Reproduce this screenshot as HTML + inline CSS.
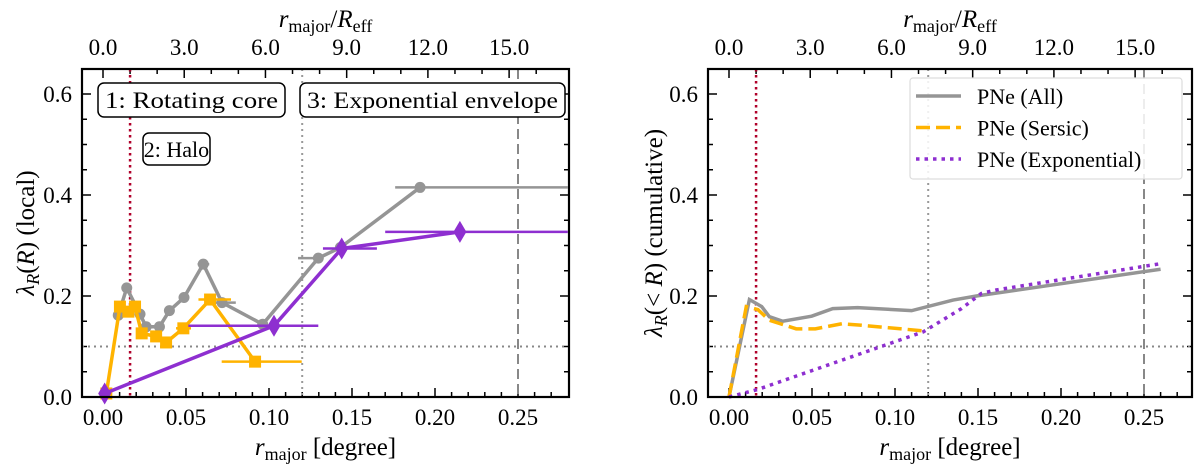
<!DOCTYPE html>
<html><head><meta charset="utf-8"><style>
body{margin:0;background:#fff}
svg{display:block;font-family:"Liberation Serif","DejaVu Serif",serif}
</style></head><body>
<svg id="fig" width="1200" height="472" viewBox="0 0 1200 472" xmlns="http://www.w3.org/2000/svg"></svg>
<script>
// ---- data ----
const grayX=[0.0092,0.0143,0.0223,0.026,0.034,0.040,0.0488,0.0604,0.0717,0.0962,0.1297,0.143,0.191];
const grayY=[0.162,0.216,0.164,0.139,0.139,0.171,0.197,0.263,0.187,0.144,0.275,0.296,0.415];
const grayXlo=[0.0092,0.0143,0.0223,0.026,0.034,0.040,0.0488,0.057,0.066,0.0962,0.1175,0.143,0.176];
const grayXhi=[0.0092,0.0143,0.0223,0.026,0.034,0.040,0.0488,0.064,0.080,0.0962,0.1325,0.143,0.280];
const orX=[0.002,0.0102,0.0153,0.0193,0.0233,0.032,0.038,0.0484,0.0645,0.0916];
const orY=[0.007,0.179,0.169,0.179,0.126,0.120,0.108,0.136,0.193,0.070];
const orXlo=[0.002,0.0102,0.0153,0.0193,0.0233,0.032,0.038,0.044,0.0575,0.0715];
const orXhi=[0.002,0.0102,0.0153,0.0193,0.0233,0.032,0.038,0.053,0.0771,0.1197];
const puX=[0.001,0.103,0.1438,0.215];
const puY=[0.007,0.141,0.294,0.327];
const puXlo=[0.001,0.0514,0.1325,0.170];
const puXhi=[0.001,0.1297,0.165,0.280];
const cumAllX=[0,0.0123,0.0197,0.0243,0.0324,0.0498,0.0625,0.0775,0.11,0.135,0.149,0.26];
const cumAllY=[0,0.193,0.179,0.159,0.15,0.16,0.175,0.177,0.171,0.192,0.2,0.253];
const cumSerX=[0,0.0104,0.0174,0.0243,0.0405,0.052,0.068,0.08,0.117];
const cumSerY=[0,0.179,0.173,0.152,0.135,0.135,0.145,0.142,0.131];
const cumExpX=[0,0.0174,0.117,0.14,0.152,0.161,0.26];
const cumExpY=[0,0.015,0.129,0.175,0.205,0.212,0.264];
const xTicks=["0.00","0.05","0.10","0.15","0.20","0.25"];
const yTicks=["0.0","0.2","0.4","0.6"];
const topTicks=["0.0","3.0","6.0","9.0","12.0","15.0"];
const Reff=0.01631;

const NS="http://www.w3.org/2000/svg";
const svg=document.getElementById('fig');
function el(tag,attrs,parent,text){const e=document.createElementNS(NS,tag);for(const k in attrs)e.setAttribute(k,attrs[k]);if(text!==undefined)e.textContent=text;(parent||svg).appendChild(e);return e;}

function panel(L,R,name){
  const T=69,B=397;
  const x0=L+21, k=1660;
  const sx=v=>x0+v*k, sy=v=>B-v*505;
  const g=el('g',{});  
  return {L,R,T,B,sx,sy,g};
}
function axes(p){
  const {L,R,T,B,sx,sy,g}=p;
  const tk=el('g',{stroke:'#000','stroke-width':1.5},g);
  
  for(let i=0;i<=27;i++){const v=i*0.01,x=sx(v);if(x>R)break;const len=i%5==0?9:5;
    el('line',{x1:x,x2:x,y1:B,y2:B-len},tk);}
  for(let i=0;i<=16;i++){const x=sx(i*Reff);if(x>R)break;const len=i%3==0?9:5;
    el('line',{x1:x,x2:x,y1:T,y2:T+len},tk);}
  for(let i=0;i<=13;i++){const y=sy(i*0.05);if(y<T)break;const len=i%4==0?9:5;
    el('line',{x1:L,x2:L+len,y1:y,y2:y},tk);el('line',{x1:R,x2:R-len,y1:y,y2:y},tk);}
  xTicks.forEach((t,i)=>{const e=el('text',{x:sx(i*0.05),y:B+28,'font-size':23,'text-anchor':'middle'},g,t);});
  yTicks.forEach((t,i)=>{const e=el('text',{x:L-10,y:sy(i*0.2)+8,'font-size':23,'text-anchor':'end'},g,t);});
  topTicks.forEach((t,i)=>{const e=el('text',{x:sx(i*3*Reff),y:T-14,'font-size':23,'text-anchor':'middle'},g,t);});
  const xt=el('text',{x:(L+R)/2,y:B+58,'font-size':25,'text-anchor':'middle'},g);
  
  el('tspan',{'font-style':'italic'},xt,'r');el('tspan',{'font-size':18,dy:5},xt,'major');el('tspan',{dy:-5},xt,' [degree]');
  const tt=el('text',{x:(L+R)/2,y:27,'font-size':25,'text-anchor':'middle'},g);
  
  el('tspan',{'font-style':'italic'},tt,'r');el('tspan',{'font-size':18,dy:5},tt,'major');el('tspan',{dy:-5},tt,'/');el('tspan',{'font-style':'italic'},tt,'R');el('tspan',{'font-size':18,dy:5},tt,'eff');
  const rl=el('g',{},g);
  el('line',{x1:L,x2:R,y1:sy(0.1),y2:sy(0.1),stroke:'#888','stroke-width':2,'stroke-dasharray':'2,4'},rl);
  el('line',{x1:sx(Reff),x2:sx(Reff),y1:T,y2:B,stroke:'#b0002a','stroke-width':2.5,'stroke-dasharray':'2.5,3.5'},rl);
  el('line',{x1:sx(0.12),x2:sx(0.12),y1:T,y2:B,stroke:'#999','stroke-width':2,'stroke-dasharray':'2,4'},rl);
  el('line',{x1:sx(0.25),x2:sx(0.25),y1:T,y2:B,stroke:'#888','stroke-width':2,'stroke-dasharray':'10,5'},rl);
}
function frame(p){el('rect',{x:p.L,y:p.T,width:p.R-p.L,height:p.B-p.T,fill:'none',stroke:'#000','stroke-width':2.2},p.g);}
function pts(p,xs,ys){return xs.map((x,i)=>p.sx(x)+','+p.sy(ys[i])).join(' ');}

const A=panel(82,569,'local-panel');
axes(A);
function series(p,name,color,xs,ys,lo,hi,marker){
  const g=el('g',{},p.g);
  xs.forEach((x,i)=>{if(hi[i]-lo[i]>0){const e=el('line',{x1:p.sx(lo[i]),x2:Math.min(p.R,p.sx(hi[i])),y1:p.sy(ys[i]),y2:p.sy(ys[i]),stroke:color,'stroke-width':2.5},g);}});
  el('polyline',{points:pts(p,xs,ys),fill:'none',stroke:color,'stroke-width':3.5,'stroke-linejoin':'round'},g);
  xs.forEach((x,i)=>{const cx=p.sx(x),cy=p.sy(ys[i]);let m;
    if(marker=='o')m=el('circle',{cx,cy,r:5.5,fill:color},g);
    else if(marker=='s')m=el('rect',{x:cx-6,y:cy-6,width:12,height:12,fill:color},g);
    else m=el('polygon',{points:`${cx},${cy-11} ${cx+6.5},${cy} ${cx},${cy+11} ${cx-6.5},${cy}`,fill:color},g);
    });
}
series(A,'series-pne-all','#959595',grayX,grayY,grayXlo,grayXhi,'o');
series(A,'series-pne-sersic','#ffb300',orX,orY,orXlo,orXhi,'s');
series(A,'series-pne-exponential','#8e2fd0',puX,puY,puXlo,puXhi,'d');
function box(x,y,w,h,txt,name,fs,stretch){const g=el('g',{},A.g);
  el('rect',{x,y,width:w,height:h,rx:6,fill:'#fff',stroke:'#000','stroke-width':1.5},g);
  const a={x:x+w/2,y:y+h/2+8,'font-size':fs,'text-anchor':'middle'};
  if(stretch){a.textLength=w-14;a.lengthAdjust='spacingAndGlyphs';}
  el('text',a,g,txt);}
box(98,83,187,34,'1: Rotating core','region-label-core',23,true);
box(300,83,265,34,'3: Exponential envelope','region-label-envelope',23,true);
box(143,133,67,32,'2: Halo','region-label-halo',22,false);
frame(A);
const ylA=el('text',{transform:'translate(34,233) rotate(-90)','font-size':25,'text-anchor':'middle'},A.g);

el('tspan',{'font-style':'italic'},ylA,'λ');el('tspan',{'font-size':18,dy:5,'font-style':'italic'},ylA,'R');el('tspan',{dy:-5},ylA,'(');el('tspan',{'font-style':'italic'},ylA,'R');el('tspan',{},ylA,')  (local)');

const Bp=panel(708,1192,'cumulative-panel');
axes(Bp);
function cline(name,color,xs,ys,dash){const e=el('polyline',{points:pts(Bp,xs,ys),fill:'none',stroke:color,'stroke-width':3.5,'stroke-dasharray':dash},Bp.g);}
cline('line-pne-all','#959595',cumAllX,cumAllY,'none');
cline('line-pne-sersic','#ffb300',cumSerX,cumSerY,'14,6');
cline('line-pne-exponential','#8e2fd0',cumExpX,cumExpY,'3.5,5');
const lg=el('g',{},Bp.g);
el('rect',{x:910,y:78,width:272,height:101,rx:3,fill:'#fff','fill-opacity':0.85,stroke:'#ddd','stroke-width':1.2},lg);
[['PNe (All)','#959595','none'],['PNe (Sersic)','#ffb300','14,6'],['PNe (Exponential)','#8e2fd0','3.5,5']].forEach((d,i)=>{
  const y=96+i*31.5;const e=el('g',{},lg);
  el('line',{x1:916,x2:961,y1:y,y2:y,stroke:d[1],'stroke-width':3.5,'stroke-dasharray':d[2]},e);
  el('text',{x:977,y:y+8,'font-size':22},e,d[0]);});
frame(Bp);
const ylB=el('text',{transform:'translate(662,233) rotate(-90)','font-size':25,'text-anchor':'middle'},Bp.g);

el('tspan',{'font-style':'italic'},ylB,'λ');el('tspan',{'font-size':18,dy:5,'font-style':'italic'},ylB,'R');el('tspan',{dy:-5},ylB,'(< ');el('tspan',{'font-style':'italic'},ylB,'R');el('tspan',{},ylB,')  (cumulative)');
</script>
</body></html>
